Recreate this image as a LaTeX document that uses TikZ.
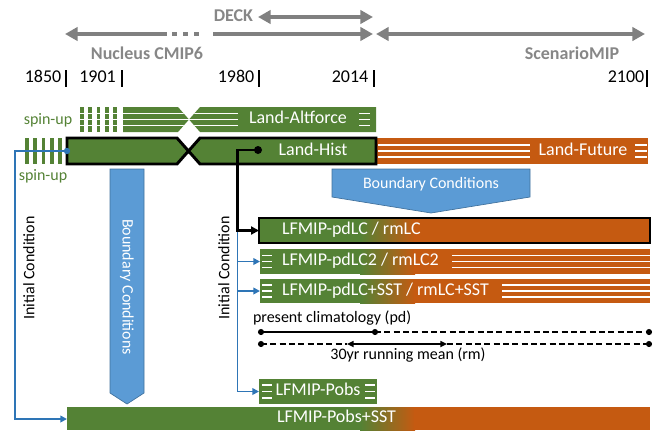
\documentclass[tikz,border=0pt]{standalone}
\usepackage{fontspec}
\setmainfont{Carlito}
\usetikzlibrary{arrows.meta}
\definecolor{lgreen}{RGB}{84,130,53}
\definecolor{lorange}{RGB}{197,90,17}
\definecolor{lblue}{RGB}{91,155,213}
\definecolor{lbluedark}{RGB}{65,113,156}
\definecolor{lline}{RGB}{46,117,182}
\definecolor{lgray}{RGB}{128,128,128}
\definecolor{tgray}{RGB}{135,135,135}
\begin{document}
\begin{tikzpicture}[x=0.75pt,y=-0.75pt,
  every node/.style={inner sep=0pt, outer sep=0pt, text height=0.64em, text depth=0pt},
  bigtext/.style={font=\fontsize{13.5}{16}\selectfont},
  smalltext/.style={font=\fontsize{12}{14}\selectfont},
  graytext/.style={font=\fontsize{13.5}{16}\selectfont\bfseries, text=tgray},
  grayline/.style={draw=lgray, line width=3.2pt},
  yearbar/.style={draw=black, line width=1.3pt},
  stripe/.style={draw=white, line width=0.8pt},
  icline/.style={draw=lline, line width=1.3pt},
  blkline/.style={draw=black, line width=1.9pt},
  climline/.style={draw=black, line width=1.2pt},
  bcarrow/.style={fill=lblue, draw=lbluedark, line width=0.5pt},
  gtipL/.style={},
]
\useasboundingbox (0,0) rectangle (659,430);

% ---------- timeline arrows ----------
\coordinate (nucL) at (65,34);
\coordinate (nucM1) at (167,34);
\coordinate (dotsA) at (172,34);
\coordinate (dotsB) at (202,34);
\coordinate (nucM2) at (213,34);
\coordinate (nucR) at (373,34);
\coordinate (scenL) at (376,34);
\coordinate (scenR) at (645,34);
\coordinate (deckL) at (258,17);
\coordinate (deckR) at (373,17);
\draw[grayline,{Triangle[length=9.5pt,width=10pt]}-] (nucL) -- (nucM1);
\draw[grayline,dash pattern=on 3.75pt off 4.5pt] (dotsA) -- (dotsB);
\draw[grayline,-{Triangle[length=9.5pt,width=10pt]}] (nucM2) -- (nucR);
\draw[grayline,{Triangle[length=9.5pt,width=10pt]}-{Triangle[length=9.5pt,width=10pt]}] (scenL) -- (scenR);
\draw[grayline,{Triangle[length=9.5pt,width=10pt]}-{Triangle[length=9.5pt,width=10pt]}] (deckL) -- (deckR);
\node[graytext, anchor=east] (deck) at (253,17) {DECK};
\node[graytext] (nucleus) at (147,55) {Nucleus CMIP6};
\node[graytext] (scenario) at (572,55) {ScenarioMIP};

% ---------- years ----------
\node[bigtext] (y1850) at (43,78) {1850};
\node[bigtext] (y1901) at (97.5,78) {1901};
\node[bigtext] (y1980) at (236,78) {1980};
\node[bigtext] (y2014) at (350,78) {2014};
\node[bigtext] (y2100) at (626,78) {2100};
\foreach \xx in {66,122,259,374,647} \draw[yearbar] (\xx,70) -- (\xx,87);

% ---------- Land-Altforce ----------
\foreach \xx in {80,88.3,96.6,104.9,113.2} \fill[lgreen] (\xx,107) rectangle ++(3.6,25);
\foreach \yy in {113.5,119.5,125.5} \draw[stripe] (79,\yy) -- (118,\yy);
\fill[lgreen] (123,107) -- (178,107) -- (189,119.5) -- (178,132) -- (123,132) -- cycle;
\fill[lgreen] (189,119.5) -- (200,107) -- (376,107) -- (376,132) -- (200,132) -- cycle;
\begin{scope}
  \clip (123,107) -- (178,107) -- (189,119.5) -- (178,132) -- (123,132) -- cycle;
  \foreach \yy in {113.5,119.5,125.5} \draw[stripe] (123,\yy) -- (190,\yy);
\end{scope}
\begin{scope}
  \clip (189,119.5) -- (200,107) -- (376,107) -- (376,132) -- (200,132) -- cycle;
  \foreach \yy in {113.5,119.5,125.5} \draw[stripe] (188,\yy) -- (238,\yy);
\end{scope}
\foreach \yy in {113.5,119.5,125.5} \draw[stripe] (359,\yy) -- (370,\yy);
\node[bigtext, text=white] (altforce) at (298,119.5) {Land-Altforce};
\node[smalltext, text=lgreen] (spinup1) at (48,120) {spin-up};

% ---------- Land-Future ----------
\fill[lorange] (376,138) rectangle (648,164);
\foreach \yy in {145,151,157} {\draw[stripe] (378,\yy) -- (530,\yy); \draw[stripe] (635,\yy) -- (647,\yy);}
\node[bigtext, text=white] (future) at (583,151) {Land-Future};

% ---------- Land-Hist ----------
\foreach \xx in {25,33.3,41.6,50,58.3} \fill[lgreen] (\xx,138) rectangle ++(3.5,26);
\node[smalltext, text=lgreen] (spinup2) at (43,176) {spin-up};
\fill[lgreen] (67,138) -- (177,138) -- (188.5,151) -- (177,164) -- (67,164) -- cycle;
\fill[lgreen] (188.5,151) -- (200,138) -- (376,138) -- (376,164) -- (200,164) -- cycle;
\draw[black, line width=2.2pt, line join=miter] (67,138) -- (177,138) -- (200,164) -- (376,164) -- (376,138) -- (200,138) -- (177,164) -- (67,164) -- cycle;
\node[bigtext, text=white] (hist) at (313,151) {Land-Hist};
\coordinate (histW) at (67,151);
\coordinate (histDot) at (258,150);

% ---------- Boundary Conditions arrows ----------
\draw[bcarrow] (332,169) -- (530,169) -- (530,197) -- (431,213) -- (332,197) -- cycle;
\node[smalltext, text=white] (bch) at (431,184) {Boundary Conditions};
\draw[bcarrow] (110,169) -- (144,169) -- (144,393) -- (127,404) -- (110,393) -- cycle;
\node[smalltext, text=white, rotate=-90] (bcv) at (127,287) {Boundary Conditions};

% ---------- LFMIP-pdLC / rmLC ----------
\fill[lgreen] (259,218) rectangle (361,243);
\shade[left color=lgreen, right color=lorange] (360,218) rectangle (415,243);
\fill[lorange] (414,218) rectangle (650,243);
\draw[black, line width=2.2pt] (259,218) rectangle (650,243);
\node[bigtext, text=white, anchor=west] (pdlc) at (282,230.5) {LFMIP-pdLC / rmLC};
\coordinate (pdlcW) at (259,230.5);

% ---------- LFMIP-pdLC2 / rmLC2 ----------
\fill[lgreen] (260,249) rectangle (361,274);
\shade[left color=lgreen, right color=lorange] (360,249) rectangle (415,274);
\fill[lorange] (414,249) rectangle (650,274);
\foreach \yy in {255.5,261.5,267.5} {\draw[stripe] (262,\yy) -- (272,\yy); \draw[stripe] (452,\yy) -- (650,\yy);}
\node[bigtext, text=white, anchor=west] (pdlc2) at (282,261.5) {LFMIP-pdLC2 / rmLC2};
\coordinate (pdlcTwoW) at (260,261.5);

% ---------- LFMIP-pdLC+SST / rmLC+SST ----------
\fill[lgreen] (260,279) rectangle (361,303);
\shade[left color=lgreen, right color=lorange] (360,279) rectangle (415,303);
\fill[lorange] (414,279) rectangle (650,303);
\foreach \yy in {285,291,297} {\draw[stripe] (262,\yy) -- (272,\yy); \draw[stripe] (502,\yy) -- (650,\yy);}
\node[bigtext, text=white, anchor=west] (pdlcsst) at (282,291) {LFMIP-pdLC+SST / rmLC+SST};
\coordinate (pdlcSstW) at (260,291);

% ---------- climatology lines ----------
\node[smalltext, anchor=west] (pdtext) at (253,318) {present climatology (pd)};
\coordinate (pdA) at (261,332);
\coordinate (pdB) at (375,332);
\coordinate (pdC) at (649,332);
\draw[climline] (pdA) -- (pdB);
\draw[climline, dash pattern=on 4.5pt off 2.5pt] (pdB) -- (pdC);
\coordinate (rmA) at (261,344);
\coordinate (rmB) at (347,344);
\coordinate (rmC) at (447,344);
\coordinate (rmD) at (649,344);
\draw[climline, dash pattern=on 4.5pt off 2.5pt] (rmA) -- (rmB);
\draw[climline, {Triangle[length=5pt,width=4.5pt]}-{Triangle[length=5pt,width=4.5pt]}] (rmB) -- (rmC);
\draw[climline, dash pattern=on 4.5pt off 2.5pt] (rmC) -- (rmD);
\foreach \p in {pdA,pdB,pdC,rmA,rmD} \fill (\p) circle[radius=2.3pt];
\node[smalltext] (rmtext) at (408,355) {30yr running mean (rm)};

% ---------- LFMIP-Pobs ----------
\fill[lgreen] (259,379) rectangle (377,404);
\foreach \yy in {385,391.5,398} {\draw[stripe] (262,\yy) -- (272,\yy); \draw[stripe] (365,\yy) -- (375,\yy);}
\node[bigtext, text=white] (pobs) at (318,391.5) {LFMIP-Pobs};
\coordinate (pobsW) at (259,391.5);

% ---------- LFMIP-Pobs+SST ----------
\fill[lgreen] (67,407) rectangle (361,430);
\shade[left color=lgreen, right color=lorange] (360,407) rectangle (415,430);
\fill[lorange] (414,407) rectangle (650,430);
\node[bigtext, text=white, anchor=west] (pobssst) at (277,418.5) {LFMIP-Pobs+SST};
\coordinate (pobsSstW) at (67,419);

% ---------- Initial Condition connectors ----------
\coordinate (icLeft) at (15,300);
\draw[icline, -{Triangle[length=5pt,width=5pt]}] (histW) -| (icLeft) |- (pobsSstW);
\fill[lline] (histW) circle[radius=2.4pt];
\node[smalltext, rotate=90] (icl) at (30,268) {Initial Condition};

\coordinate (icTop) at (237.5,232);
\draw[icline, -{Triangle[length=5pt,width=5pt]}] (icTop) |- (pobsW);
\draw[icline, -{Triangle[length=5pt,width=5pt]}] (icTop |- pdlcTwoW) -- (pdlcTwoW);
\draw[icline, -{Triangle[length=5pt,width=5pt]}] (icTop |- pdlcSstW) -- (pdlcSstW);
\node[smalltext, rotate=90] (icr) at (225,268) {Initial Condition};

% ---------- Land-Hist to LFMIP-pdLC ----------
\coordinate (blkCorner) at (237.5,190);
\draw[blkline, -{Triangle[length=6pt,width=6pt]}] (histDot) -| (blkCorner) |- (pdlcW);
\fill (histDot) circle[radius=3pt];
\end{tikzpicture}
\end{document}
